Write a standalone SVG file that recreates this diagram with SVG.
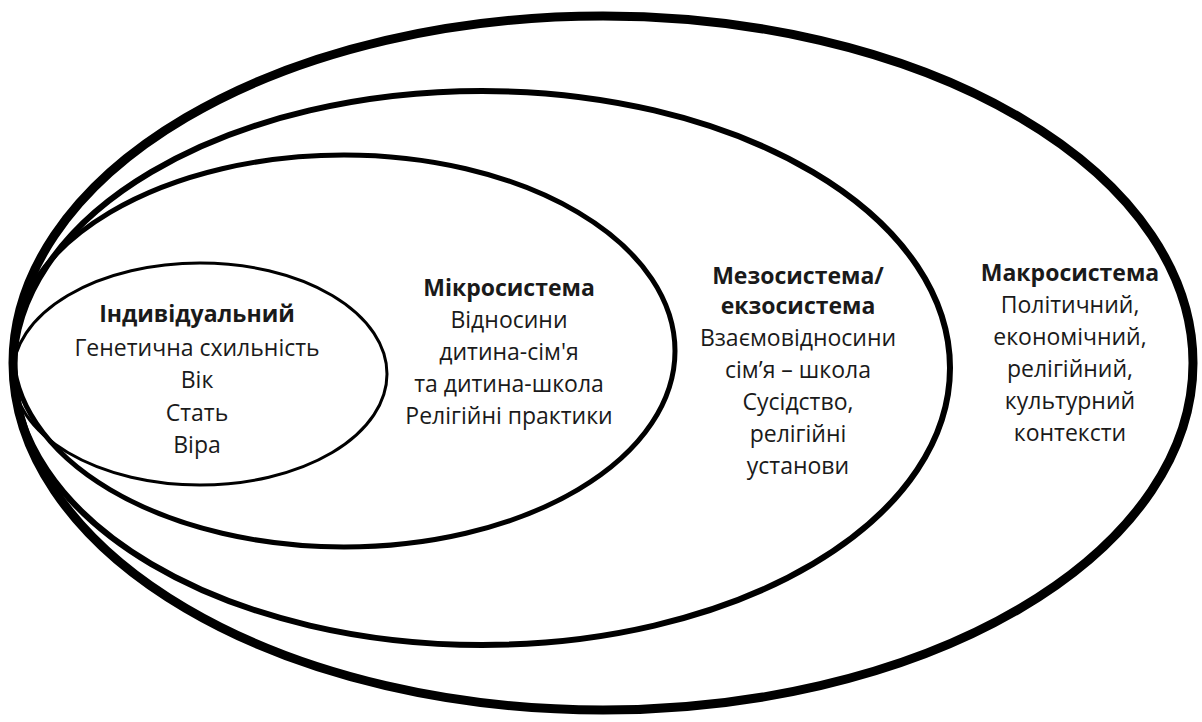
<svg xmlns="http://www.w3.org/2000/svg" width="1202" height="722" viewBox="0 0 1202 722">
<style>
.ring{fill:none;stroke:#000}
text{font-family:"Open Sans","Noto Sans","Liberation Sans",sans-serif;font-size:23px;fill:#1a1a1a;text-anchor:middle}
.t{font-weight:bold}
</style>
<rect width="1202" height="722" fill="#fff"/>
<g id="macro"><ellipse class="ring" cx="603" cy="363" rx="590" ry="347" stroke-width="9"/>
<text x="1070" y="281" class="t">Макросистема</text>
<text x="1070" y="313">Політичний,</text>
<text x="1070" y="345">економічний,</text>
<text x="1070" y="377">релігійний,</text>
<text x="1070" y="409">культурний</text>
<text x="1070" y="441">контексти</text></g>
<g id="meso"><ellipse class="ring" cx="482" cy="368" rx="468" ry="277" stroke-width="6"/>
<text x="798" y="284" class="t">Мезосистема/</text>
<text x="798" y="314" class="t">екзосистема</text>
<text x="798" y="346">Взаємовідносини</text>
<text x="798" y="378">сім’я – школа</text>
<text x="798" y="410">Сусідство,</text>
<text x="798" y="442">релігійні</text>
<text x="798" y="474">установи</text></g>
<g id="micro"><ellipse class="ring" cx="344" cy="351" rx="331" ry="196" stroke-width="5"/>
<text x="509" y="296" class="t">Мікросистема</text>
<text x="509" y="328">Відносини</text>
<text x="509" y="360">дитина-сім'я</text>
<text x="509" y="392">та дитина-школа</text>
<text x="509" y="424">Релігійні практики</text></g>
<g id="individual"><ellipse class="ring" cx="200" cy="374" rx="187" ry="111" stroke-width="3"/>
<text x="197" y="322" class="t">Індивідуальний</text>
<text x="197" y="356">Генетична схильність</text>
<text x="197" y="388">Вік</text>
<text x="197" y="421">Стать</text>
<text x="197" y="453">Віра</text></g>
<g id="connectors"></g>
</svg>
